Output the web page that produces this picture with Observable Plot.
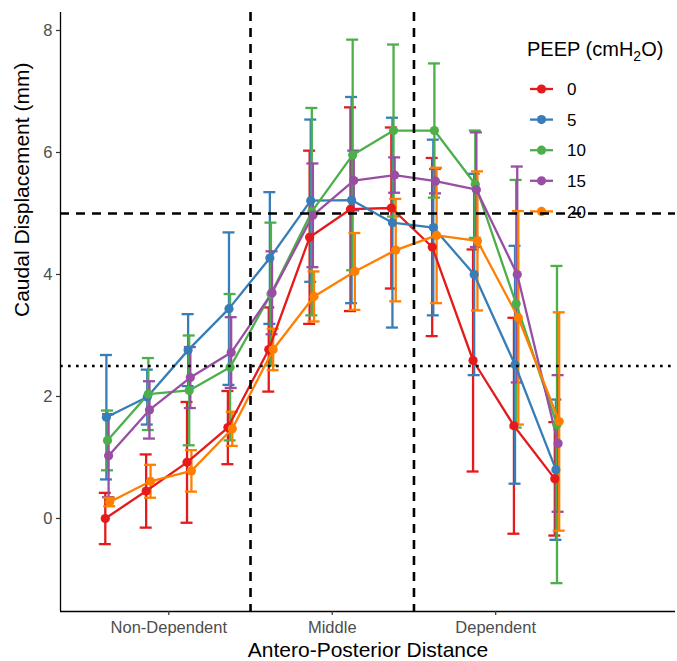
<!DOCTYPE html>
<html>
<head>
<meta charset="utf-8">
<script src="https://cdn.jsdelivr.net/npm/d3@7"></script>
<script src="https://cdn.jsdelivr.net/npm/@observablehq/plot@0.6"></script>
<style>
  body { margin: 0; background: #fff; font-family: "Liberation Sans", Arial, sans-serif; }
  #wrap { position: relative; width: 677px; height: 661px; overflow: hidden; }
  #legend { position: absolute; left: 520px; top: 30px; z-index: 0; }
  #chart { position: absolute; left: 0; top: 0; z-index: 1; }
  #chart g[aria-label$="tick label"] { fill: #4d4d4d; }
  #chart g[aria-label$="-axis tick"] { stroke: #333; stroke-width: 1.2; }
</style>
</head>
<body>
<div id="wrap"><div id="legend"></div><div id="chart"></div></div>
<script>
// ---- data ----
const positions = [1, 2, 3, 4, 5, 6, 7, 8, 9, 10, 11, 12];
const groupLabels = ["Non-Dependent", "Middle", "Dependent"];
const groupCenters = [2.5, 6.5, 10.5];
const groupBounds = [4.5, 8.5];
const refDashed = [5];
const refDotted = [2.5];
const yTicks = [0, 2, 4, 6, 8];
const peepLevels = ["0", "5", "10", "15", "20"];
const colors = ["#E41A1C", "#377EB8", "#4DAF4A", "#984EA3", "#FF7F00"];

const mean0  = [0.00, 0.45, 0.92, 1.49, 2.77, 4.61, 5.07, 5.09, 4.45, 2.59, 1.52, 0.65];
const err0   = [0.42, 0.60, 0.99, 0.60, 0.69, 1.42, 1.67, 1.32, 1.46, 1.82, 1.77, 0.93];
const mean5  = [1.66, 1.99, 2.76, 3.44, 4.27, 5.21, 5.22, 4.85, 4.77, 4.00, 2.52, 0.80];
const err5   = [1.02, 0.45, 0.59, 1.25, 1.08, 1.33, 1.69, 1.72, 1.44, 1.65, 1.95, 1.15];
const mean10 = [1.28, 2.04, 2.10, 2.48, 3.68, 5.03, 5.96, 6.36, 6.36, 5.48, 3.52, 1.54];
const err10  = [0.49, 0.59, 0.90, 1.20, 1.17, 1.70, 1.89, 1.41, 1.10, 0.88, 2.03, 2.60];
const mean15 = [1.03, 1.78, 2.31, 2.72, 3.70, 4.97, 5.54, 5.63, 5.53, 5.39, 4.00, 1.23];
const err15  = [0.68, 0.47, 0.50, 0.58, 0.68, 0.85, 0.49, 0.29, 0.20, 0.94, 1.77, 1.12];
const mean20 = [0.27, 0.61, 0.78, 1.47, 2.77, 3.64, 4.05, 4.40, 4.64, 4.55, 3.29, 1.59];
const err20  = [0.07, 0.27, 0.34, 0.28, 0.34, 0.41, 0.63, 0.84, 1.11, 1.14, 1.75, 1.79];

const means = [mean0, mean5, mean10, mean15, mean20];
const errs = [err0, err5, err10, err15, err20];

const data = [];
peepLevels.forEach((p, k) => positions.forEach((pos, i) => {
  data.push({peep: p, k, pos, mean: means[k][i], lo: means[k][i] - errs[k][i], hi: means[k][i] + errs[k][i]});
}));

const xDomain = [-0.15, 14.9];
const yDomain = [-1.525, 8.295];

const errMarks = [], lineMarks = [], dotMarks = [];
peepLevels.forEach((p, k) => {
  const rows = data.filter(d => d.peep === p);
  const dx = (k - 2) * 1.1;
  const c = colors[k];
  errMarks.push(Plot.ruleX(rows, {x: "pos", y1: "lo", y2: "hi", stroke: c, strokeWidth: 2.3, dx}));
  errMarks.push(Plot.ruleY(rows, {y: "lo", x1: "pos", x2: "pos", insetLeft: -6, insetRight: -6, stroke: c, strokeWidth: 2.3, dx}));
  errMarks.push(Plot.ruleY(rows, {y: "hi", x1: "pos", x2: "pos", insetLeft: -6, insetRight: -6, stroke: c, strokeWidth: 2.3, dx}));
  lineMarks.push(Plot.line(rows, {x: "pos", y: "mean", stroke: c, strokeWidth: 2.3, dx}));
  dotMarks.push(Plot.dot(rows, {x: "pos", y: "mean", fill: c, r: 4.6, dx}));
});

const chart = Plot.plot({
  width: 677,
  height: 661,
  marginLeft: 60,
  marginRight: 2,
  marginTop: 12,
  marginBottom: 50,
  style: {background: "none", fontFamily: "Liberation Sans, Arial, sans-serif", overflow: "visible"},
  x: {domain: xDomain},
  y: {domain: yDomain},
  marks: [
    ...errMarks,
    ...lineMarks,
    ...dotMarks,
    Plot.ruleX(groupBounds, {stroke: "black", strokeWidth: 2.6, strokeDasharray: "9,7"}),
    Plot.ruleY(refDashed, {stroke: "black", strokeWidth: 2.6, strokeDasharray: "9,7"}),
    Plot.ruleY(refDotted, {stroke: "black", strokeWidth: 2.7, strokeDasharray: "2.7,5.3"}),
    Plot.ruleX([xDomain[0]], {stroke: "black", strokeWidth: 1.3}),
    Plot.ruleY([yDomain[0]], {stroke: "black", strokeWidth: 1.3}),
    Plot.axisY(yTicks, {tickSize: 4, tickPadding: 4, fontSize: 16.5, label: null, tickFormat: d => String(d)}),
    Plot.axisX(groupCenters, {tickSize: 4, tickPadding: 6, fontSize: 16.5, label: null,
      tickFormat: d => groupLabels[groupCenters.indexOf(d)]}),
    Plot.text(["Antero-Posterior Distance"], {frameAnchor: "bottom", dy: 39, lineAnchor: "middle", fontSize: 21, fill: "black"}),
    Plot.text(["Caudal Displacement (mm)"], {frameAnchor: "left", dx: -38, dy: 5, rotate: -90, lineAnchor: "middle", fontSize: 21, fill: "black"})
  ]
});
document.getElementById("chart").appendChild(chart);

// ---- legend ----
const lg = d3.select("#legend").append("svg").attr("width", 157).attr("height", 200)
  .style("font-family", "Liberation Sans, Arial, sans-serif");
const title = lg.append("text").attr("x", 7).attr("y", 26).attr("font-size", 20).attr("fill", "black");
title.append("tspan").text("PEEP (cmH");
title.append("tspan").attr("font-size", 14).attr("dy", 5).text("2");
title.append("tspan").attr("dy", -5).text("O)");
const rowsG = lg.selectAll("g.item").data(peepLevels).join("g")
  .attr("transform", (d, i) => `translate(0, ${59 + i * 30.6})`);
rowsG.append("line").attr("x1", 10).attr("x2", 33).attr("y1", 0).attr("y2", 0)
  .attr("stroke", (d, i) => colors[i]).attr("stroke-width", 2.3);
rowsG.append("circle").attr("cx", 21.5).attr("cy", 0).attr("r", 4.6).attr("fill", (d, i) => colors[i]);
rowsG.append("text").attr("x", 47).attr("y", 0).attr("dy", "0.36em").attr("font-size", 17).attr("fill", "black").text(d => d);
</script>
</body>
</html>
